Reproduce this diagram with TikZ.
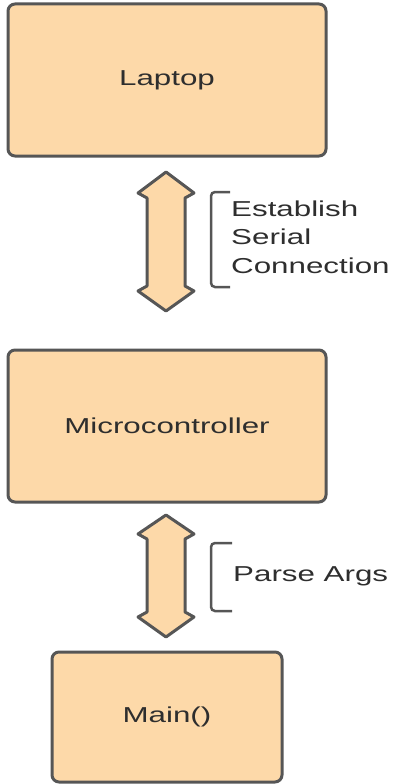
\documentclass[tikz,border=0pt]{standalone}
\usepackage{fontspec}
\setmainfont[FakeStretch=1.45]{Liberation Sans}
\definecolor{boxfill}{HTML}{FDD9A9}
\definecolor{boxline}{HTML}{565656}
\definecolor{txt}{HTML}{2E2E2E}
\begin{document}
\begin{tikzpicture}[x=1pt,y=-1pt,
  box/.style={draw=boxline, fill=boxfill, line width=3pt, rounded corners=7pt, inner sep=0pt},
  lbl/.style={text=txt, font=\fontsize{21.6}{28.5}\selectfont, inner sep=0pt},
  dbl/.style={draw=boxline, fill=boxfill, line width=3pt, line join=round},
  brk/.style={draw=boxline, line width=2.5pt, rounded corners=4pt}]
\useasboundingbox (0,0) rectangle (395,784);
% boxes
\node[box, minimum width=318pt, minimum height=152pt] (laptop) at (167,80) {};
\node[lbl] (laptoptxt) at (laptop.center) {Laptop};
\node[box, minimum width=318pt, minimum height=152pt] (mcu) at (167,426) {};
\node[lbl] (mcutxt) at (mcu.center) {Microcontroller};
\node[box, minimum width=230pt, minimum height=130pt] (mainbox) at (167,717) {};
\node[lbl] (maintxt) at (mainbox.center) {Main()};
% double arrows
\draw[dbl] (166,172) -- (194,193) -- (185,198) -- (185,286) -- (194,291) -- (166,311)
  -- (138,291) -- (147,286) -- (147,198) -- (138,193) -- cycle;
\draw[dbl] (166,515) -- (194,534) -- (185,539) -- (185,612) -- (194,617) -- (166,637)
  -- (138,617) -- (147,612) -- (147,539) -- (138,534) -- cycle;
% brackets
\coordinate (b1t) at (230,192);
\coordinate (b1b) at (230,287);
\draw[brk] (b1t) -- (211,192) -- (211,287) -- (b1b);
\coordinate (b2t) at (232,543);
\coordinate (b2b) at (232,611);
\draw[brk] (b2t) -- (211,543) -- (211,611) -- (b2b);
% labels
\node[lbl, anchor=west, align=left] (estab) at (231,237) {Establish\\Serial\\Connection};
\node[lbl, anchor=west] (parse) at (233,576) {Parse Args};
\end{tikzpicture}
\end{document}
